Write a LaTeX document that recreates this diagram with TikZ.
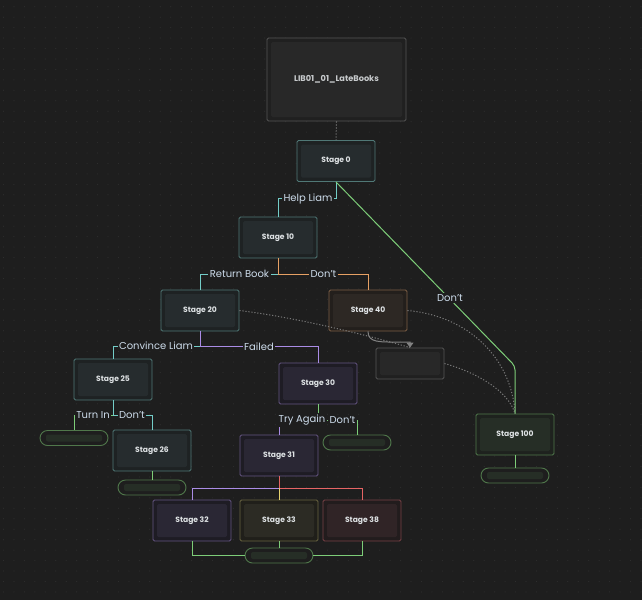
\documentclass[tikz,border=0pt]{standalone}
\usepackage{fontspec}
\setmainfont{Poppins}
\usepackage{xcolor}
\usetikzlibrary{arrows.meta}

\definecolor{bg}{RGB}{30,30,30}
\definecolor{gridc}{RGB}{46,46,46}
\definecolor{nodetext}{RGB}{222,226,228}
\definecolor{lbltext}{RGB}{205,220,235}
\definecolor{tealB}{RGB}{80,120,118}\definecolor{tealO}{RGB}{30,34,35}\definecolor{tealI}{RGB}{38,44,46}
\definecolor{brownB}{RGB}{125,95,70}\definecolor{brownO}{RGB}{35,31,28}\definecolor{brownI}{RGB}{45,40,36}
\definecolor{purpleB}{RGB}{100,85,130}\definecolor{purpleO}{RGB}{30,28,36}\definecolor{purpleI}{RGB}{42,39,52}
\definecolor{oliveB}{RGB}{105,100,65}\definecolor{oliveO}{RGB}{32,31,26}\definecolor{oliveI}{RGB}{44,43,36}
\definecolor{redB}{RGB}{120,65,70}\definecolor{redO}{RGB}{34,28,29}\definecolor{redI}{RGB}{48,36,38}
\definecolor{greenB}{RGB}{80,120,75}\definecolor{greenO}{RGB}{30,34,30}\definecolor{greenI}{RGB}{38,46,38}
\definecolor{grayB}{RGB}{85,85,85}\definecolor{grayO}{RGB}{32,32,32}\definecolor{grayI}{RGB}{40,40,40}
\definecolor{tealL}{RGB}{115,205,200}
\definecolor{orangeL}{RGB}{230,160,100}
\definecolor{purpleL}{RGB}{170,140,230}
\definecolor{greenL}{RGB}{125,205,120}
\definecolor{redL}{RGB}{230,100,100}
\definecolor{yellowL}{RGB}{230,210,110}
\definecolor{grayL}{RGB}{130,130,130}
\definecolor{dotline}{RGB}{120,120,120}

\begin{document}
\begin{tikzpicture}[x=1pt, y=-1pt,
    inset/.style={path picture={\fill[#1] ([shift={(4pt,-4pt)}]path picture bounding box.north west) rectangle ([shift={(-4pt,4pt)}]path picture bounding box.south east);}},
    pillinset/.style={path picture={\fill[#1, rounded corners=2pt] ([shift={(6pt,-4pt)}]path picture bounding box.north west) rectangle ([shift={(-6pt,4pt)}]path picture bounding box.south east);}}]
    \tikzstyle{stage} = [rectangle, draw, line width=0.9pt, rounded corners=1.5pt, minimum width=78pt, minimum height=41pt, text=nodetext, font=\fontsize{7.6}{9}\selectfont\bfseries]
    \tikzstyle{tealbox} = [stage, draw=tealB, fill=tealO, inset=tealI]
    \tikzstyle{brownbox} = [stage, draw=brownB, fill=brownO, inset=brownI]
    \tikzstyle{purplebox} = [stage, draw=purpleB, fill=purpleO, inset=purpleI]
    \tikzstyle{olivebox} = [stage, draw=oliveB, fill=oliveO, inset=oliveI]
    \tikzstyle{redbox} = [stage, draw=redB, fill=redO, inset=redI]
    \tikzstyle{greenbox} = [stage, draw=greenB, fill=greenO, inset=greenI]
    \tikzstyle{graybox} = [stage, draw=grayB, fill=grayO, inset=grayI]
    \tikzstyle{pill} = [rectangle, draw=greenB, line width=0.9pt, rounded corners=7.5pt, fill=bg, minimum width=68pt, minimum height=15pt, inner sep=0pt, pillinset=greenI]
    \tikzstyle{line} = [draw, line width=1pt]
    \tikzstyle{dots} = [draw, line width=1pt, color=dotline, dash pattern=on 1.2pt off 1.8pt]
    \tikzstyle{lbl} = [fill=bg, text=lbltext, inner sep=1.5pt, font=\fontsize{10}{11}\selectfont]

    % canvas
    \fill[bg] (0,0) rectangle (642,600);
    \useasboundingbox (0,0) rectangle (642,600);
    \foreach \i in {0,...,61}
        \foreach \j in {0,...,57}
            \fill[gridc] (3.5+10.45*\i, 6.7+10.45*\j) circle (0.6pt);

    % quest and stages
    \node [graybox, minimum width=139pt, minimum height=83pt, text=nodetext!90!black, font=\fontsize{8.2}{9}\selectfont\bfseries] (lib) at (336.5,79.5) {LIB01\_01\_LateBooks};
    \node [tealbox] (s0) at (336,161) {Stage 0};
    \node [tealbox] (s10) at (278,237.5) {Stage 10};
    \node [tealbox] (s20) at (200,310.5) {Stage 20};
    \node [brownbox] (s40) at (368,310.5) {Stage 40};
    \node [graybox, minimum width=68pt, minimum height=31pt] (hub) at (410,363.5) {};
    \node [tealbox] (s25) at (113,379.5) {Stage 25};
    \node [purplebox] (s30) at (318,383.5) {Stage 30};
    \node [tealbox] (s26) at (152,450.5) {Stage 26};
    \node [purplebox] (s31) at (279,455.5) {Stage 31};
    \node [greenbox] (s100) at (515,434.5) {Stage 100};
    \node [purplebox] (s32) at (192,520.5) {Stage 32};
    \node [olivebox] (s33) at (279,520.5) {Stage 33};
    \node [redbox] (s38) at (362,520.5) {Stage 38};

    % end pills
    \node [pill] (p25) at (74,438) {};
    \node [pill] (p26) at (152,487.5) {};
    \node [pill] (p30) at (357,442.5) {};
    \node [pill] (p100) at (515,475.5) {};
    \node [pill] (pend) at (279,555.5) {};

    \coordinate (bend) at (515,366);

    % dotted links
    \path [dots] (lib.south) -- (s0.north);
    \path [dots] (s20.east) .. controls (300,318) and (370,336) .. (hub.north);
    \path [dots] (s40.east) .. controls (470,316) and (512,360) .. (s100.north);
    \path [dots] (hub.east) .. controls (475,372) and (508,390) .. (s100.north);
    \path [line, grayL, -{Triangle[width=7pt,length=5pt]}] (s40.south) .. controls (368,343) and (380,342) .. (400,342) -| (hub.north);

    % choices
    \path [line, tealL] (s0.south) -- ++(0,17) -| (s10.north);
    \path [line, greenL, rounded corners=4pt] (s0.south) -- (bend) -- (s100.north);
    \path [line, tealL] (s10.south) -- ++(0,16) -| (s20.north);
    \path [line, orangeL] (s10.south) -- ++(0,16) -| (s40.north);
    \path [line, tealL] (s20.south) -- ++(0,15) -| (s25.north);
    \path [line, purpleL] (s20.south) -- ++(0,15) -| (s30.north);
    \path [line, tealL] (s25.south) -- ++(0,15) -| (s26.north);
    \path [line, greenL] (s25.south) ++(0,15) -| (p25.north);
    \path [line, greenL] (s30.south) -- ++(0,16) -| (p30.north);
    \path [line, purpleL] (s30.south) ++(0,16) -| (s31.north);
    \path [line, purpleL] (s31.south) ++(0,12) -| (s32.north);
    \path [line, redL] (s31.south) -- ++(0,12) -| (s38.north);
    \path [line, yellowL] (s31.south) ++(0,12) -- (s33.north);
    \path [line, greenL] (s26.south) -- (p26.north);
    \path [line, greenL] (s100.south) -- (p100.north);
    \path [line, greenL] (s32.south) |- (pend.west);
    \path [line, greenL] (s38.south) |- (pend.east);
    \path [line, greenL] (s33.south) -- (pend.north);

    % labels
    \node [lbl] (lhelp) at (308,199) {Help Liam};
    \node [lbl] (lreturn) at (239.5,274) {Return Book};
    \node [lbl] (ldont1) at (323.5,274) {Don't};
    \node [lbl] (lconv) at (156,345.5) {Convince Liam};
    \node [lbl] (lfail) at (259,347) {Failed};
    \node [lbl] (lturn) at (93,415) {Turn In};
    \node [lbl] (ldont2) at (132,415) {Don't};
    \node [lbl] (lagain) at (302,420) {Try Again};
    \node [lbl] (ldont3) at (342.5,420) {Don't};
    \node [lbl] (ldont4) at (450,298) {Don't};
\end{tikzpicture}
\end{document}
